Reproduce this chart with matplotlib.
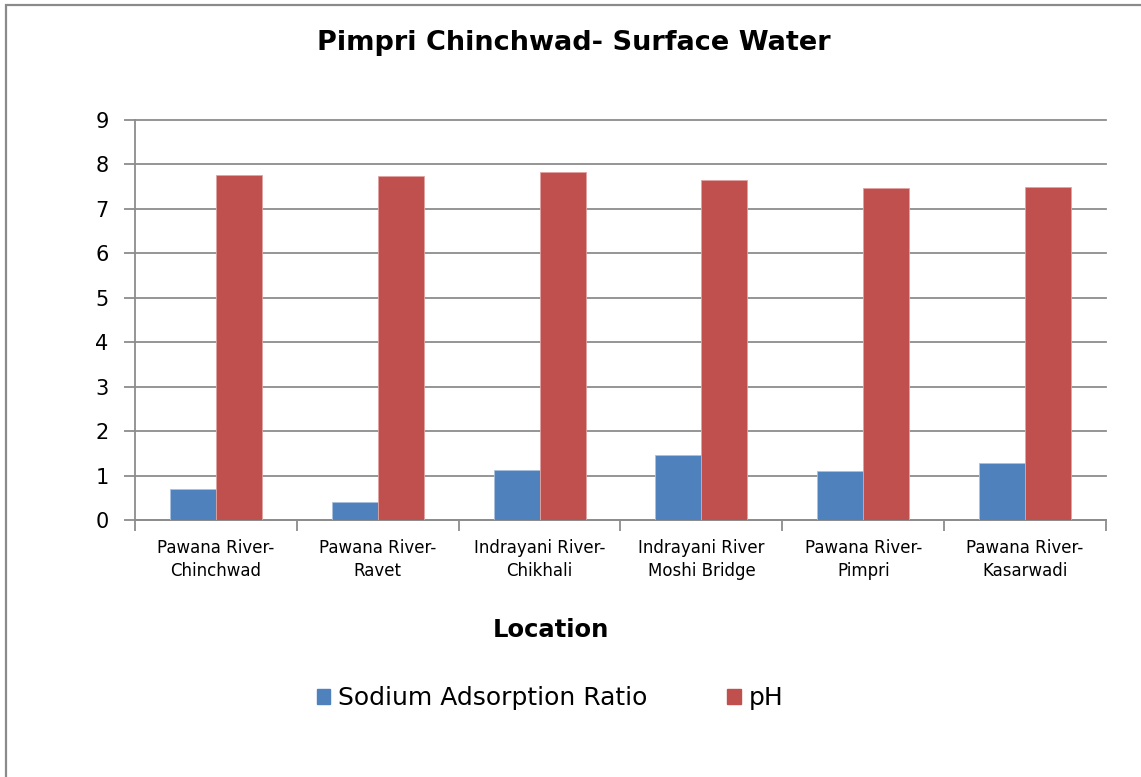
import numpy as np
import matplotlib.pyplot as plt
from matplotlib.patches import Rectangle, Patch

# sampling sites and measured values
locations = ['Pawana River-\nChinchwad', 'Pawana River-\nRavet', 'Indrayani River-\nChikhali',
             'Indrayani River\nMoshi Bridge', 'Pawana River-\nPimpri', 'Pawana River-\nKasarwadi']
sar = [0.70, 0.41, 1.13, 1.47, 1.10, 1.29]
ph = [7.77, 7.74, 7.83, 7.65, 7.47, 7.50]

blue = '#4F81BD'
red = '#C0504D'
grey = '#8c8c8c'

W, H = 1141, 777
fig = plt.figure(figsize=(W / 100, H / 100), dpi=100, facecolor='white')
ax = fig.add_axes([135 / W, 1 - 520 / H, (1106 - 135) / W, 400 / H])

x = np.arange(len(locations))
w = 0.284
ax.bar(x - w / 2, sar, w, color=blue, edgecolor='#a9c0de', linewidth=0.6, zorder=3)
ax.bar(x + w / 2, ph, w, color=red, edgecolor='#e0a3a1', linewidth=0.6, zorder=3)

ax.set_xlim(-0.5, len(locations) - 0.5)
ax.set_ylim(0, 9)
ax.set_yticks(range(0, 10))
ax.tick_params(axis='y', labelsize=15, length=8, width=1.3, color=grey, pad=11)
ax.yaxis.grid(True, color=grey, linewidth=1.3, zorder=0)
for gl in ax.get_ygridlines():
    gl.set_clip_on(False)

# category boundaries carry the tick marks, centres carry the labels
ax.set_xticks(np.arange(-0.5, len(locations)), labels=[''] * (len(locations) + 1))
ax.tick_params(axis='x', which='major', length=8, width=1.3, color=grey)
ax.set_xticks(x, labels=locations, minor=True)
ax.tick_params(axis='x', which='minor', length=0, pad=14, labelsize=12)
for t in ax.get_xticklabels(minor=True):
    t.set_linespacing(1.35)

for s in ['top', 'right']:
    ax.spines[s].set_visible(False)
for s in ['left', 'bottom']:
    ax.spines[s].set_color(grey)
    ax.spines[s].set_linewidth(1.3)

fig.text(574 / W, 1 - 43 / H, 'Pimpri Chinchwad- Surface Water', ha='center', va='center',
         fontsize=19.5, fontweight='bold')
fig.text(551 / W, 1 - 630 / H, 'Location', ha='center', va='center',
         fontsize=17.5, fontweight='bold')

handles = [Patch(color=blue, label='Sodium Adsorption Ratio'), Patch(color=red, label='pH')]
fig.legend(handles=handles, loc='center', bbox_to_anchor=(550 / W, 1 - 698 / H), ncol=2,
           frameon=False, fontsize=18, handlelength=0.55, handleheight=0.55,
           handletextpad=0.3, columnspacing=3.2)

# outer chart frame
fig.patches.append(Rectangle((6 / W, -0.05), 1.1, 1 - 5 / H + 0.05, transform=fig.transFigure,
                             fill=False, edgecolor='#8a8a8a', linewidth=1.6))

fig.savefig('out.png', dpi=100, facecolor='white')
